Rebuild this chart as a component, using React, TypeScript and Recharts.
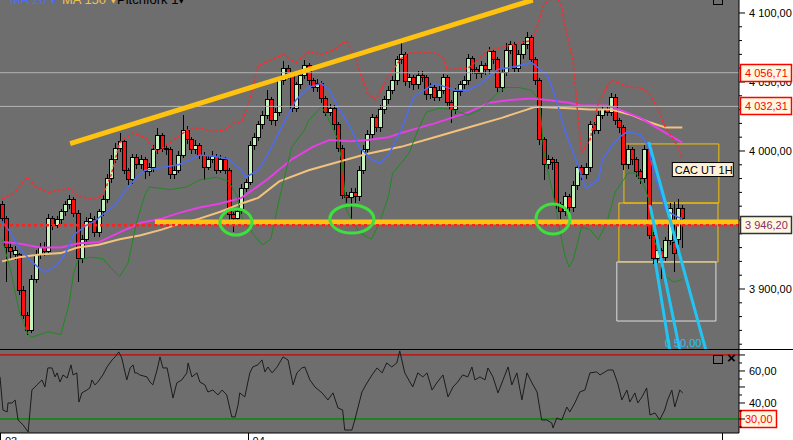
import React from 'react';
import { ComposedChart, Bar, Line, XAxis, YAxis, ReferenceLine, ReferenceArea, ReferenceDot } from 'recharts';

const FONT = '"Liberation Sans", Arial, sans-serif';

// ---------- candles (CAC 40, 1H) ----------
const candleOpen = [
  3961,3951,3930,3925,3925,3899,3881,3870,3907,3925,
  3930,3927,3951,3946,3950,3956,3961,3965,3955,3922,
  3936,3949,3950,3941,3956,3965,3980,3994,4002,4007,
  3986,3979,3995,3990,3994,3985,3988,4001,4011,4002,
  4001,3983,3986,3997,4015,4008,4001,4004,3997,3988,
  3994,3996,3986,3994,3986,3954,3951,3956,3973,3977,
  4004,4010,4019,4026,4037,4022,4028,4051,4060,4055,
  4031,4048,4055,4062,4051,4046,4049,4038,4028,4031,
  4019,4002,3968,3966,3970,3967,3986,4001,4012,4024,
  4017,4030,4037,4044,4051,4066,4070,4050,4053,4048,
  4055,4053,4041,4046,4039,4044,4053,4035,4030,4043,
  4048,4051,4067,4059,4056,4062,4059,4072,4066,4046,
  4057,4073,4077,4060,4070,4077,4082,4066,4051,4008,
  3990,3994,3992,3961,3956,3967,3959,3975,3988,3983,
  3988,4019,4015,4026,4030,4028,4039,4022,4017,3990,
  4001,3994,3985,3980,4001,3939,3922,3928,3923,3935,
  3934,3936,3958,
];
const candleHigh = [
  3964,3953,3934,3931,3926,3902,3883,3910,3928,3933,
  3934,3954,3953,3953,3958,3964,3968,3967,3957,3939,
  3952,3955,3953,3958,3968,3983,3997,4006,4013,4009,
  3988,3998,3998,3997,3996,3991,4004,4017,4013,4005,
  4003,3990,4000,4026,4018,4010,4008,4006,3999,3997,
  4000,3998,3997,3996,3988,3956,3958,3976,3980,4007,
  4013,4022,4029,4044,4039,4031,4054,4065,4062,4057,
  4050,4058,4066,4064,4053,4052,4051,4040,4034,4033,
  4021,4004,3970,3973,3973,3989,4004,4015,4027,4026,
  4033,4040,4047,4054,4069,4082,4072,4056,4055,4058,
  4058,4055,4049,4048,4047,4056,4055,4037,4046,4051,
  4054,4070,4069,4061,4065,4064,4075,4074,4068,4060,
  4078,4080,4079,4073,4080,4086,4084,4068,4053,4010,
  3997,3996,3994,3963,3970,3969,3978,3991,3990,3991,
  4022,4021,4029,4033,4032,4042,4041,4024,4019,4004,
  4003,3996,3987,4004,4003,3941,3931,3930,3938,3962,
  3963,3965,3961,
];
const candleLow = [
  3948,3905,3922,3921,3896,3878,3867,3868,3904,3922,
  3924,3925,3943,3944,3947,3953,3958,3952,3905,3919,
  3933,3946,3938,3938,3953,3962,3977,3991,3999,3983,
  3975,3976,3987,3987,3980,3982,3985,3998,3999,3997,
  3980,3980,3984,3995,4005,3998,3998,3994,3979,3986,
  3991,3983,3984,3983,3950,3941,3948,3954,3970,3975,
  4001,4007,4016,4023,4019,4018,4025,4048,4052,4028,
  4028,4045,4052,4048,4043,4043,4035,4025,4025,4015,
  3999,3965,3962,3950,3962,3964,3983,3998,4009,4014,
  4014,4027,4034,4041,4048,4063,4047,4046,4044,4045,
  4050,4037,4038,4036,4036,4041,4032,4020,4027,4040,
  4045,4048,4056,4052,4053,4055,4056,4063,4043,4043,
  4054,4070,4057,4057,4067,4074,4063,4048,4004,3979,
  3987,3986,3958,3951,3953,3954,3956,3972,3979,3980,
  3985,4012,4012,4023,4025,4025,4019,4013,3986,3987,
  3990,3981,3976,3977,3936,3918,3919,3907,3920,3932,
  3912,3932,3930,
];
const candleClose = [
  3951,3930,3927,3928,3899,3881,3870,3907,3925,3930,
  3927,3951,3946,3950,3956,3961,3965,3955,3922,3936,
  3949,3951,3941,3956,3965,3980,3994,4002,4007,3986,
  3979,3995,3990,3994,3985,3988,4001,4011,4002,4001,
  3983,3986,3997,4015,4008,4001,4004,3997,3988,3994,
  3996,3986,3994,3986,3954,3951,3956,3973,3977,4004,
  4010,4019,4026,4037,4022,4028,4051,4060,4055,4031,
  4048,4055,4062,4051,4046,4049,4038,4028,4031,4019,
  4002,3968,3966,3970,3967,3986,4001,4012,4024,4017,
  4030,4037,4044,4051,4066,4070,4050,4053,4048,4055,
  4053,4041,4046,4039,4044,4053,4035,4030,4043,4048,
  4051,4067,4059,4056,4062,4059,4072,4066,4046,4057,
  4073,4077,4060,4070,4077,4082,4066,4051,4008,3990,
  3994,3992,3961,3956,3967,3959,3975,3988,3983,3988,
  4019,4015,4026,4030,4028,4039,4022,4017,3990,4001,
  3994,3985,3980,4001,3939,3922,3928,3923,3935,3958,
  3926,3958,3951,
];

// ---------- indicators: [bar index, value] ----------
const ma20 = [[0,3949],[2,3941],[4,3930],[7,3920],[10,3912],[13,3917],[15,3925],[17,3939],[20,3946],[22,3949],[24,3954],[27,3961],[29,3970],[32,3981],[34,3986],[38,3988],[42,3990],[45,3994],[47,3997],[51,3996],[54,3994],[57,3986],[58,3981],[61,3986],[63,3996],[67,4020],[70,4037],[73,4046],[76,4049],[78,4044],[80,4032],[83,4017],[85,4003],[88,3994],[90,3991],[92,3997],[95,4015],[98,4039],[103,4049],[105,4047],[108,4044],[111,4044],[114,4049],[118,4059],[122,4061],[126,4064],[127,4062],[130,4054],[132,4037],[134,4015],[137,3991],[139,3973],[142,3979],[143,3994],[145,4003],[147,4010],[149,4014],[152,4012],[154,4003],[155,3986],[157,3968],[158,3957],[161,3952],[162,3951]];
const bbUpper = [[0,3965],[3,3970],[6,3981],[8,3974],[11,3970],[14,3972],[16,3973],[18,3967],[22,3965],[24,3968],[26,3983],[28,4006],[31,4013],[34,4010],[37,3999],[39,4004],[44,4015],[47,4017],[50,4014],[53,4015],[55,4020],[57,4021],[59,4037],[61,4062],[64,4066],[67,4070],[70,4064],[73,4072],[76,4070],[79,4073],[82,4080],[84,4068],[87,4042],[89,4037],[92,4054],[95,4067],[97,4071],[103,4071],[105,4068],[106,4059],[111,4060],[114,4068],[116,4073],[119,4075],[123,4078],[126,4080],[127,4086],[129,4106],[131,4111],[133,4108],[134,4091],[136,4066],[137,4030],[138,3999],[140,4008],[142,4035],[144,4046],[145,4051],[147,4049],[150,4046],[152,4046],[154,4042],[156,4032],[158,4017],[161,4003],[162,3994]];
const bbLower = [[0,3936],[2,3914],[4,3885],[6,3868],[7,3865],[11,3869],[14,3867],[16,3890],[17,3911],[18,3921],[21,3923],[24,3922],[26,3915],[28,3909],[30,3919],[32,3948],[33,3958],[34,3968],[35,3974],[40,3972],[44,3974],[47,3979],[51,3981],[54,3978],[56,3967],[57,3952],[60,3939],[62,3932],[64,3936],[66,3965],[69,4003],[72,4015],[73,4022],[76,4032],[77,4028],[80,4008],[81,3991],[82,3957],[85,3941],[88,3936],[90,3949],[92,3967],[93,3984],[95,3991],[97,3999],[99,4015],[101,4028],[104,4031],[107,4030],[111,4026],[114,4030],[118,4042],[120,4046],[123,4046],[126,4044],[128,4037],[129,4000],[130,3985],[131,3972],[132,3957],[133,3940],[134,3925],[135,3916],[136,3921],[138,3945],[140,3943],[142,3936],[144,3948],[146,3970],[148,3979],[149,3984],[151,3984],[153,3974],[154,3965],[155,3938],[157,3921],[158,3909],[160,3905],[162,3907]];
const ma50 = [[0,3934],[4,3933],[9,3930],[14,3930],[18,3933],[23,3934],[28,3941],[33,3948],[38,3951],[42,3955],[47,3959],[52,3962],[57,3966],[63,3979],[69,3994],[74,4003],[78,4008],[83,4007],[87,4008],[92,4010],[95,4013],[103,4020],[111,4028],[116,4035],[121,4037],[126,4038],[130,4037],[135,4035],[138,4033],[144,4033],[147,4030],[152,4024],[157,4015],[162,4006]];
const ma150 = [[0,3920],[4,3923],[9,3925],[14,3926],[18,3930],[23,3932],[28,3936],[33,3939],[38,3943],[42,3947],[47,3951],[52,3956],[57,3962],[61,3966],[66,3978],[73,3986],[80,3992],[87,3998],[95,4003],[103,4010],[111,4017],[119,4024],[125,4030],[127,4032],[135,4031],[140,4030],[145,4030],[150,4026],[154,4021],[158,4017],[162,4017]];
const rsi = [[-0.5,56.3],[0.2,35.6],[1.2,34.4],[1.4,40],[2.4,40],[3.1,41.9],[3.8,29.4],[5,26.3],[6.2,21.9],[7.1,48.1],[8.3,51.3],[9.5,54.4],[10.2,50],[10.9,61.9],[11.9,61.9],[12.6,56.3],[13.1,58.8],[13.8,53.1],[14.5,57.5],[15.5,55.6],[16.4,63.8],[16.9,57.5],[17.8,58.8],[18.3,40.6],[19,46.3],[20.2,48.1],[20.9,49.4],[21.4,54.4],[22.1,51.3],[22.8,53.1],[24,57.5],[25,62.5],[26.2,66.9],[26.9,68.8],[27.8,71.9],[28.5,68.1],[29.7,54.4],[30.5,61.9],[31.2,63.8],[31.6,58.8],[32.1,58.8],[32.8,57.5],[34.5,56.3],[35.2,53.1],[35.9,51.3],[36.9,60.6],[37.6,68.8],[38.3,61.9],[39.3,61.9],[40,52.5],[40.7,43.1],[41.6,52.5],[42.8,54.4],[44,58.8],[44.3,65],[45.2,56.3],[46.4,58.8],[47.1,53.1],[48.3,51.3],[49,46.9],[50.2,48.1],[51.4,45],[52.4,48.1],[53.5,45],[54.7,31.3],[55.5,31.3],[56.2,38.8],[56.6,46.3],[57.8,43.8],[59,58.8],[59.7,62.5],[60.9,63.8],[61.9,66.9],[62.6,59.4],[63.3,62.5],[64.3,58.8],[65.5,62.5],[66.9,68.8],[68.1,66.9],[69.3,51.3],[70.2,58.8],[71.4,61.9],[72.1,62.5],[73.3,54.4],[74.5,50],[76.2,46.3],[77.6,41.9],[78.8,46.3],[80,36.9],[81.1,35.6],[81.6,23.1],[83.3,23.1],[84,29.4],[85.7,46.9],[86.9,52.5],[88.1,57.5],[89.3,61.9],[90.5,58.8],[91.6,65],[92.8,62.5],[94,65],[94.7,72.5],[95.9,58.8],[97.8,50],[99,58.8],[100.2,56.3],[101.2,58.8],[102.4,48.1],[103.5,52.5],[105,57.5],[106.2,43.8],[107.4,50],[108.5,53.1],[109.7,57.5],[110.9,56.3],[111.9,62.5],[112.6,54.4],[113.8,56.3],[115,54.4],[115.7,61.9],[116.9,56.3],[118.1,46.3],[119.3,54.4],[120.5,62.5],[121.4,51.3],[122.6,58.8],[123.8,41.9],[125,58.8],[126.2,52.5],[127.4,46.9],[128.5,29.4],[129.7,29.4],[130.9,27.5],[131.2,24.4],[132.1,30.6],[133.3,29.4],[134.5,37.5],[135.2,34.4],[136.4,40],[137.6,46.9],[138.8,48.1],[140,58.8],[141.6,59.4],[142.4,57.5],[143.6,59.4],[144.3,60.6],[145.5,60.6],[146.6,52.5],[147.6,41.9],[148.8,48.1],[149.5,40.6],[150.7,46.3],[151.4,40],[152.4,43.8],[153.5,49.4],[154.3,32.5],[155.5,33.8],[156.6,29.4],[157.8,35.6],[158.5,41.9],[159.5,48.1],[160.2,37.5],[161.4,48.1],[162.1,46.3]];

// ---------- drawings / levels ----------
const levelHigh = 4056.71;
const levelMid = 4032.31;
const levelLast = 3946.2;
const supportLevel = 3948.5;
const trendLine = [[16.2, 4005.4], [126.4, 4109.4]];
const supportStart = 36.4;
const boxes = [[148.1, 170.7, 3962.3, 4005.1], [146.9, 170.5, 3919.6, 3962.3], [146.4, 170.0, 3876.8, 3919.6]];
const forkLines = [[[154.0, 4006.5], [167.6, 3855.8]], [[154.3, 3960.9], [161.4, 3855.8]], [[155.5, 3921.0], [159.0, 3855.8]]];
const circles = [[55.7, 3948.5, 16, 13], [83.3, 3950.7, 22, 14], [131.2, 3950.7, 17, 15]];
const priceTicks = [3860,3870,3880,3890,3900,3910,3920,3930,3940,3950,3960,3970,3980,3990,4000,4010,4020,4030,4040,4050,4060,4070,4080,4090,4100];
const rsiTicks = [25,30,35,40,45,50,55,60,65,70];
const rsiLabels = [40, 60];
const rsiOverbought = 70;
const rsiOversold = 30;
const dateTicks = [-0.5, 58.45];
const dateLabels = ['03', '04'];

const X_DOMAIN = [-0.5, 175.5];
const P_DOMAIN = [3855.8, 4109.4];
const R_DOMAIN = [21.25, 73.1];

const rows: any[] = candleOpen.map((o, i) => ({ i, o, h: candleHigh[i], l: candleLow[i], c: candleClose[i] }));
const addSeries = (key: string, arr: number[][]) => arr.forEach(([i, v]) => { const r = rows[Math.round(i)]; if (r) r[key] = v; });
addSeries('ma20', ma20);
addSeries('up', bbUpper);
addSeries('lo', bbLower);
addSeries('ma50', ma50);
addSeries('ma150', ma150);
const rsiRows = rsi.map(([i, v]) => ({ i, v }));

const fmtPrice = (v: number) => {
  const s = v.toFixed(2).replace('.', ',');
  const [a, b] = s.split(',');
  const t = a.length > 3 ? a.slice(0, a.length - 3) + ' ' + a.slice(a.length - 3) : a;
  return t + ',' + b;
};

const Candle = (props: any) => {
  const { x, y, width, height, payload } = props;
  if (!payload || height == null) return null;
  const { o, h, l, c } = payload;
  const top = height < 0 ? y + height : y;
  const hh = Math.abs(height);
  const cx = Math.round(x + width / 2);
  const py = (v: number) => top + ((h - v) / (h - l)) * hh;
  const bt = py(Math.max(o, c));
  const bb = py(Math.min(o, c));
  const up = c >= o;
  return (
    <g shapeRendering="crispEdges">
      <line x1={cx + 0.5} x2={cx + 0.5} y1={top} y2={top + hh} stroke="#000" strokeWidth={1} />
      <rect x={cx - 1.5} y={bt} width={4} height={Math.max(1, bb - bt)} fill={up ? '#c4f4bc' : '#ff1010'} stroke="#000" strokeWidth={1} />
    </g>
  );
};

const PriceTick = (props: any) => {
  const { x, y, payload } = props;
  const v = payload.value;
  const major = v % 50 === 0;
  return (
    <g>
      <line x1={x} x2={x + (major ? 6 : 3)} y1={y} y2={y} stroke="#000" />
      {major && (
        <text x={x + 10} y={y + 4} fontSize={11} fontFamily={FONT} fill="#000">{fmtPrice(v)}</text>
      )}
    </g>
  );
};

const RsiTick = (props: any) => {
  const { x, y, payload } = props;
  const v = payload.value;
  const major = rsiLabels.includes(v);
  return (
    <g>
      <line x1={x} x2={x + (v % 10 === 0 ? 6 : 3)} y1={y} y2={y} stroke="#000" />
      {major && (
        <text x={x + 10} y={y + 4} fontSize={11} fontFamily={FONT} fill="#000">{v.toFixed(2).replace('.', ',')}</text>
      )}
    </g>
  );
};

const DateTick = (props: any) => {
  const { x, y, payload } = props;
  const idx = dateTicks.indexOf(payload.value);
  return (
    <g>
      <line x1={Math.round(x) + 0.5} x2={Math.round(x) + 0.5} y1={y} y2={y + 8} stroke="#000" />
      <text x={x + 5} y={y + 12} fontSize={11} fontFamily={FONT} fill="#000">{dateLabels[idx]}</text>
    </g>
  );
};

const tag = (text: string, color: string, border: string, w: number) => (props: any) => {
  const vb = props.viewBox || {};
  const x = (vb.x || 0) + (vb.width || 0) + 1;
  const y = Math.round(vb.y || 0);
  return (
    <g>
      <rect x={x + 0.5} y={y - 8.5} width={w} height={17} fill="#fff8e1" stroke={border} strokeWidth={1.5} />
      <text x={x + 5} y={y + 4} fontSize={11} fontFamily={FONT} fill={color}>{text}</text>
    </g>
  );
};

const lineProps = { dot: false, activeDot: false, connectNulls: true, isAnimationActive: false };

export default function App() {
  return (
    <div style={{ position: 'absolute', left: 0, top: 0, width: 793, height: 440, overflow: 'hidden', background: '#ffffff', fontFamily: FONT }}>
      <div style={{ position: 'absolute', left: 0, top: 0, width: 739, height: 433, background: '#6e6e6e' }} />
      <div style={{ position: 'absolute', left: 0, top: 0 }}>
        <ComposedChart width={793} height={350} data={rows} margin={{ top: 0, right: 0, bottom: 0, left: 0 }}>
          <XAxis dataKey="i" type="number" domain={X_DOMAIN} hide allowDataOverflow />
          <YAxis orientation="right" width={54} domain={P_DOMAIN} allowDataOverflow ticks={priceTicks} interval={0}
            tick={<PriceTick />} tickLine={false} tickSize={0} tickMargin={0} axisLine={{ stroke: '#000' }} />
          <Line dataKey="ma150" stroke="#f2c27e" strokeWidth={2} {...lineProps} />
          <Line dataKey="ma50" stroke="#e83ee8" strokeWidth={2} {...lineProps} />
          <Line dataKey="up" stroke="#ff2a2a" strokeWidth={1.5} strokeDasharray="3 2" {...lineProps} />
          <Line dataKey="lo" stroke="#1f8a1f" strokeWidth={1} {...lineProps} />
          <Line dataKey="ma20" stroke="#4c6cf2" strokeWidth={1.5} {...lineProps} />
          <Bar dataKey={(d: any) => [d.l, d.h]} barSize={4} shape={<Candle />} isAnimationActive={false} />
          <ReferenceLine y={levelHigh} stroke="#b4b4b4" strokeWidth={1} />
          <ReferenceLine y={levelMid} stroke="#b4b4b4" strokeWidth={1} />
          <ReferenceLine segment={[{ x: supportStart, y: supportLevel }, { x: X_DOMAIN[1], y: supportLevel }]} stroke="#ffc20e" strokeWidth={5} ifOverflow="hidden" />
          <ReferenceLine y={levelLast} stroke="#ff2020" strokeWidth={2.5} strokeDasharray="3 3" />
          <ReferenceLine segment={[{ x: trendLine[0][0], y: trendLine[0][1] }, { x: trendLine[1][0], y: trendLine[1][1] }]} stroke="#ffc20e" strokeWidth={5} ifOverflow="hidden" />
          {boxes.map((b, k) => (
            <ReferenceArea key={'b' + k} x1={b[0]} x2={b[1]} y1={b[2]} y2={b[3]} fill="none" fillOpacity={0}
              stroke={k === 2 ? '#dcdcdc' : '#f5c000'} strokeWidth={1} ifOverflow="visible" />
          ))}
          {forkLines.map((f, k) => (
            <ReferenceLine key={'f' + k} segment={[{ x: f[0][0], y: f[0][1] }, { x: f[1][0], y: f[1][1] }]} stroke="#22c4f4" strokeWidth={3} ifOverflow="hidden" />
          ))}
          {circles.map((c, k) => (
            <ReferenceDot key={'c' + k} x={c[0]} y={c[1]} r={1} ifOverflow="visible"
              shape={(p: any) => <ellipse cx={p.cx} cy={p.cy} rx={c[2]} ry={c[3]} fill="none" stroke="#3ee03e" strokeWidth={3} />} />
          ))}
          <ReferenceDot x={159.5} y={3992.0} r={1} ifOverflow="visible"
            shape={(p: any) => (
              <g>
                <rect x={p.cx + 0.5} y={p.cy + 0.5} width={61} height={14} fill="#fff0d8" stroke="#000" strokeWidth={1} />
                <text x={p.cx + 3} y={p.cy + 12} fontSize={11} fontFamily={FONT} fill="#000">CAC UT 1H</text>
              </g>
            )} />
          <ReferenceDot x={157.8} y={3858} r={1} ifOverflow="visible"
            shape={(p: any) => (
              <text x={p.cx} y={p.cy} fontSize={11} fontFamily={FONT} fill="#22c4f4">0 50,00</text>
            )} />
        </ComposedChart>
      </div>
      {/* price tags layer, above the axis labels */}
      <div style={{ position: 'absolute', left: 0, top: 0 }}>
        <ComposedChart width={793} height={350} data={rows} margin={{ top: 0, right: 54, bottom: 0, left: 0 }}>
          <XAxis dataKey="i" type="number" domain={X_DOMAIN} hide allowDataOverflow />
          <YAxis hide domain={P_DOMAIN} allowDataOverflow />
          <ReferenceLine y={levelHigh} strokeOpacity={0} label={tag('4 056,71', '#ff0000', '#ff0000', 51)} />
          <ReferenceLine y={levelMid} strokeOpacity={0} label={tag('4 032,31', '#ff0000', '#ff0000', 51)} />
          <ReferenceLine y={levelLast} strokeOpacity={0} label={tag('3 946,20', '#8a2a68', '#333333', 51)} />
        </ComposedChart>
      </div>
      <div style={{ position: 'absolute', left: 0, top: 350 }}>
        <ComposedChart width={793} height={90} data={rsiRows} margin={{ top: 0, right: 0, bottom: 0, left: 0 }}>
          <XAxis dataKey="i" type="number" domain={X_DOMAIN} allowDataOverflow height={7} ticks={dateTicks} interval={0}
            tick={<DateTick />} tickLine={false} tickSize={0} tickMargin={0} axisLine={{ stroke: '#000' }} />
          <YAxis orientation="right" width={54} domain={R_DOMAIN} allowDataOverflow ticks={rsiTicks} interval={0}
            tick={<RsiTick />} tickLine={false} tickSize={0} tickMargin={0} axisLine={{ stroke: '#000' }} />
          <ReferenceLine y={rsiOverbought} stroke="#d00000" strokeWidth={1.2} />
          <ReferenceLine y={rsiOversold} stroke="#0a8a0a" strokeWidth={1.5} label={tag('30,00', '#ff0000', '#ff0000', 36)} />
          <Line dataKey="v" stroke="#1c1c1c" strokeWidth={1} dot={false} activeDot={false} isAnimationActive={false} />
        </ComposedChart>
      </div>
      <div style={{ position: 'absolute', left: 0, top: 349, width: 793, height: 1, background: '#000' }} />
      <div style={{ position: 'absolute', left: 722, top: 433, width: 1, height: 7, background: '#000' }} />
      <div style={{ position: 'absolute', left: 713, top: -5, width: 8, height: 8, border: '1px solid #000' }} />
      <div style={{ position: 'absolute', left: 713, top: 355, width: 8, height: 7, border: '1.5px solid #000' }} />
      <div style={{ position: 'absolute', left: 727, top: 350, fontSize: 15, lineHeight: '15px', fontWeight: 'bold', color: '#000' }}>×</div>
      <div style={{ position: 'absolute', left: 0, top: -8, fontSize: 13, lineHeight: '15px', whiteSpace: 'nowrap' }}>
        <span style={{ position: 'absolute', left: 10, color: '#4a6cff' }}>MA 20 ▾</span>
        <span style={{ position: 'absolute', left: 62, color: '#f0c050' }}>MA 150 ▾</span>
        <span style={{ position: 'absolute', left: 117, color: '#000' }}>Pitchfork 1▾</span>
      </div>
    </div>
  );
}
